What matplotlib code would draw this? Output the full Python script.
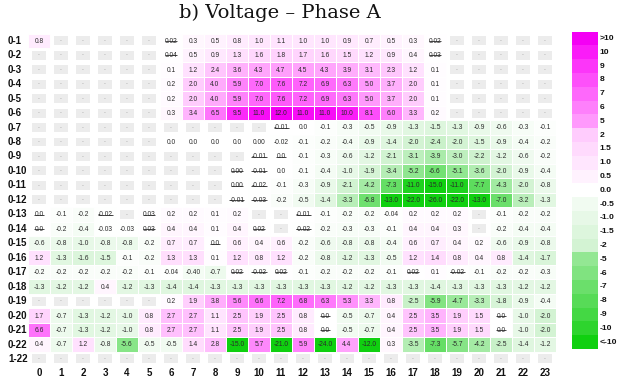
import matplotlib
matplotlib.use("Agg")
import matplotlib.pyplot as plt
from matplotlib.patches import Rectangle
from matplotlib.colors import to_rgb
from matplotlib import font_manager
import numpy as np

# ---------------------------------------------------------------- data
row_labels = ["0-1", "0-2", "0-3", "0-4", "0-5", "0-6", "0-7", "0-8", "0-9", "0-10",
              "0-11", "0-12", "0-13", "0-14", "0-15", "0-16", "0-17", "0-18", "0-19",
              "0-20", "0-21", "0-22", "1-22"]
col_labels = [str(i) for i in range(24)]

# one string per row; "-" = no value, "~" = value printed struck through
cells = [
    "0.8 - - - - - ~0.02 0.3 0.5 0.8 1.0 1.1 1.0 1.0 0.9 0.7 0.5 0.3 ~0.02 - - - - -",
    "- - - - - - ~0.04 0.5 0.9 1.3 1.6 1.8 1.7 1.6 1.5 1.2 0.9 0.4 ~0.03 - - - - -",
    "- - - - - - 0.1 1.2 2.4 3.6 4.3 4.7 4.5 4.3 3.9 3.1 2.3 1.2 0.1 - - - - -",
    "- - - - - - 0.2 2.0 4.0 5.9 7.0 7.6 7.2 6.9 6.3 5.0 3.7 2.0 0.1 - - - - -",
    "- - - - - - 0.2 2.0 4.0 5.9 7.0 7.6 7.2 6.9 6.3 5.0 3.7 2.0 0.1 - - - - -",
    "- - - - - - 0.3 3.4 6.5 9.5 11.0 12.0 11.0 11.0 10.0 8.1 6.0 3.3 0.2 - - - - -",
    "- - - - - - - - - - - ~-0.01 0.0 -0.1 -0.3 -0.5 -0.9 -1.3 -1.5 -1.3 -0.9 -0.6 -0.3 -0.1",
    "- - - - - - 0.0 0.0 0.0 0.0 0.00 -0.02 -0.1 -0.2 -0.4 -0.9 -1.4 -2.0 -2.4 -2.0 -1.5 -0.9 -0.4 -0.2",
    "- - - - - - - - - - ~-0.01 ~0.0 -0.1 -0.3 -0.6 -1.2 -2.1 -3.1 -3.9 -3.0 -2.2 -1.2 -0.6 -0.2",
    "- - - - - - - - - ~0.00 ~-0.01 0.0 -0.1 -0.4 -1.0 -1.9 -3.4 -5.2 -6.6 -5.1 -3.6 -2.0 -0.9 -0.4",
    "- - - - - - - - - ~0.00 ~-0.02 -0.1 -0.3 -0.9 -2.1 -4.2 -7.3 -11.0 -15.0 -11.0 -7.7 -4.3 -2.0 -0.8",
    "- - - - - - - - - ~-0.01 ~-0.03 -0.2 -0.5 -1.4 -3.3 -6.8 -13.0 -22.0 -26.0 -22.0 -13.0 -7.0 -3.2 -1.3",
    "~0.0 -0.1 -0.2 ~-0.02 - ~0.03 0.2 0.2 0.1 0.2 - - ~-0.01 -0.1 -0.2 -0.2 -0.04 0.2 0.2 0.2 - -0.1 -0.2 -0.2",
    "~0.0 -0.2 -0.4 -0.03 -0.03 ~0.03 0.4 0.4 0.1 0.4 ~0.02 - ~-0.02 -0.2 -0.3 -0.3 -0.1 0.4 0.4 0.3 - -0.2 -0.4 -0.4",
    "-0.6 -0.8 -1.0 -0.8 -0.8 -0.2 0.7 0.7 ~0.0 0.6 0.4 0.6 -0.2 -0.6 -0.8 -0.8 -0.4 0.6 0.7 0.4 0.2 -0.6 -0.9 -0.8",
    "1.2 -1.3 -1.6 -1.5 -0.1 -0.2 1.3 1.3 0.1 1.2 0.8 1.2 -0.2 -0.8 -1.2 -1.3 -0.5 1.2 1.4 0.8 0.4 0.8 -1.4 -1.7",
    "-0.2 -0.2 -0.2 -0.2 -0.2 -0.1 -0.04 -0.40 -0.7 ~0.02 ~-0.02 ~0.02 -0.1 -0.2 -0.2 -0.2 -0.1 ~0.02 0.1 ~-0.02 -0.1 -0.2 -0.2 -0.3",
    "-1.3 -1.2 -1.2 0.4 -1.2 -1.3 -1.4 -1.4 -1.3 -1.3 -1.3 -1.3 -1.3 -1.3 -1.2 -1.2 -1.3 -1.3 -1.4 -1.3 -1.3 -1.3 -1.2 -1.2",
    "- - - - - - 0.2 1.9 3.8 5.6 6.6 7.2 6.8 6.3 5.3 3.3 0.8 -2.5 -5.9 -4.7 -3.3 -1.8 -0.9 -0.4",
    "1.7 -0.7 -1.3 -1.2 -1.0 0.8 2.7 2.7 1.1 2.5 1.9 2.5 0.8 ~0.0 -0.5 -0.7 0.4 2.5 3.5 1.9 1.5 ~0.0 -1.0 -2.0",
    "6.6 -0.7 -1.3 -1.2 -1.0 0.8 2.7 2.7 1.1 2.5 1.9 2.5 0.8 ~0.0 -0.5 -0.7 0.4 2.5 3.5 1.9 1.5 ~0.0 -1.0 -2.0",
    "0.4 -0.7 1.2 -0.8 -5.6 -0.5 -0.5 1.4 2.8 -15.0 5.7 -21.0 5.9 -24.0 4.4 -12.0 0.3 -3.5 -7.3 -5.7 -4.2 -2.5 -1.4 -1.2",
    "- - - - - - - - - - - - - - - - - - - - - - - -",
]

# colour legend: labels top to bottom, value each block stands for, and its colour
legend_labels = [">10", "10", "9", "8", "7", "6", "5", "2", "1.5", "1.0", "0.5", "0.0",
                 "-0.5", "-1.0", "-1.5", "-2", "-5", "-6", "-7", "-8", "-9", "-10", "<-10"]
legend_values = [12, 10, 9, 8, 7, 6, 5, 2, 1.5, 1.0, 0.5, 0.0,
                 -0.5, -1.0, -1.5, -2, -5, -6, -7, -8, -9, -10, -12]
legend_colors = ["#f400f4", "#fa1cf8", "#fc36f9", "#fd50fa", "#fe68fb", "#fe80fb", "#ff99fc",
                 "#ffccfd", "#ffdafd", "#ffe6fe", "#fff2fe", "#ffffff",
                 "#f1fbf1", "#e7f8e7", "#ddf6dd", "#d3f3d3", "#93e793", "#80e380",
                 "#6bdf6b", "#57db57", "#44d844", "#2ed42e", "#10d010"]

# ---------------------------------------------------------------- helpers
_names = {f.name for f in font_manager.fontManager.ttflist}
NARROW = "Liberation Sans Narrow" if "Liberation Sans Narrow" in _names else "Liberation Sans"
SCALE = 1.0 if NARROW == "Liberation Sans Narrow" else 0.85

_vals = np.array(legend_values[::-1], dtype=float)
_rgb = np.array([to_rgb(c) for c in legend_colors[::-1]])


def colour_of(v):
    v = float(np.clip(v, _vals[0], _vals[-1]))
    return tuple(np.interp(v, _vals, _rgb[:, k]) for k in range(3))


# ---------------------------------------------------------------- figure
W, H = 621, 381
fig = plt.figure(figsize=(W / 100, H / 100), dpi=100)
fig.patch.set_facecolor("white")

nrows, ncols = len(row_labels), len(col_labels)
left, right, top, bottom = 28, 556, 33.5, 366.2
ax = fig.add_axes([left / W, (H - bottom) / H, (right - left) / W, (bottom - top) / H])
ax.set_xlim(-0.5, ncols - 0.5)
ax.set_ylim(nrows - 0.5, -0.5)
ax.axis("off")

struck_texts = []
for r, line in enumerate(cells):
    for c, tok in enumerate(line.split()):
        if tok == "-":
            ax.add_patch(Rectangle((c - 0.30, r - 0.31), 0.60, 0.62,
                                   facecolor="#ececec", edgecolor="none"))
            ax.text(c, r, "-", ha="center", va="center", fontsize=4,
                    color="#9a9a9a", family=NARROW)
            continue
        strike = tok.startswith("~")
        label = tok.lstrip("~")
        val = float(label)
        ax.add_patch(Rectangle((c - 0.5, r - 0.5), 1, 1, facecolor=colour_of(val),
                               edgecolor="white", linewidth=0.7))
        t = ax.text(c, r + 0.03, label, ha="center", va="center",
                    fontsize=5.6 * SCALE, color="#2a2a2a", family=NARROW)
        if strike:
            struck_texts.append((t, r))

# strike-through lines sized to each text
renderer = fig.canvas.get_renderer()
inv = ax.transData.inverted()
for t, r in struck_texts:
    bb = t.get_window_extent(renderer)
    (x0, _), (x1, _) = inv.transform([(bb.x0, bb.y0), (bb.x1, bb.y1)])
    ax.plot([x0, x1], [r + 0.02, r + 0.02], color="#2a2a2a", linewidth=0.6,
            solid_capstyle="butt")

# row and column labels
for r, lab in enumerate(row_labels):
    ax.text(-1.41, r, lab, ha="left", va="center", fontsize=8.3 * SCALE,
            fontweight="bold", family=NARROW, color="#111111", clip_on=False)
for c, lab in enumerate(col_labels):
    ax.text(c, nrows - 0.5 + 0.47, lab, ha="center", va="center", fontsize=8.3 * SCALE,
            fontweight="bold", family=NARROW, color="#111111", clip_on=False)

# title
fig.text(280 / W, 1 - 13 / H, "b) Voltage \u2013 Phase A", ha="center", va="center",
         fontsize=14, family="DejaVu Serif", color="#111111")

# colour legend
cb_top, cb_bot = 31.7, 349.0
cax = fig.add_axes([572 / W, (H - cb_bot) / H, 26 / W, (cb_bot - cb_top) / H])
n = len(legend_labels)
cax.set_xlim(0, 1)
cax.set_ylim(n, 0)
cax.axis("off")
for i, (lab, col) in enumerate(zip(legend_labels, legend_colors)):
    cax.add_patch(Rectangle((0, i), 1, 1, facecolor=col, edgecolor="none"))
    cax.text(1.06, i + 0.5, lab, ha="left", va="center", fontsize=7.2 * SCALE,
             fontweight="bold", family=NARROW, color="#111111", clip_on=False)

fig.savefig("out.png", dpi=100, facecolor="white")
